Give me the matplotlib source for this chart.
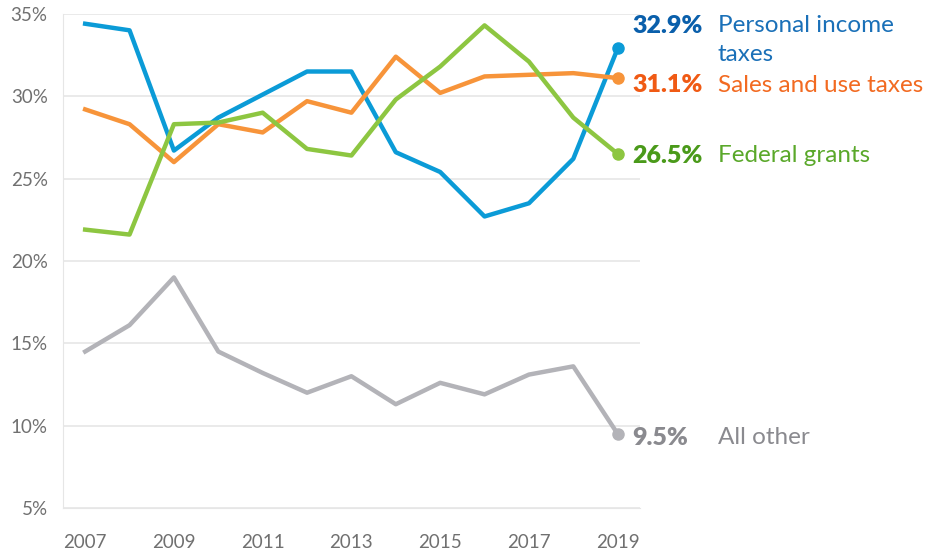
import matplotlib
matplotlib.use("Agg")
import matplotlib.pyplot as plt

years = list(range(2007, 2020))
personal_income = [34.4, 34.0, 26.7, 28.7, 30.1, 31.5, 31.5, 26.6, 25.4, 22.7, 23.5, 26.2, 32.9]
sales_use = [29.2, 28.3, 26.0, 28.3, 27.8, 29.7, 29.0, 32.4, 30.2, 31.2, 31.3, 31.4, 31.1]
federal = [21.9, 21.6, 28.3, 28.4, 29.0, 26.8, 26.4, 29.8, 31.8, 34.3, 32.1, 28.7, 26.5]
all_other = [14.5, 16.1, 19.0, 14.5, 13.2, 12.0, 13.0, 11.3, 12.6, 11.9, 13.1, 13.6, 9.5]

names = ["Personal income\ntaxes", "Sales and use taxes", "Federal grants", "All other"]
series = [personal_income, sales_use, federal, all_other]
line_colors = ["#0b9bd7", "#f7943a", "#8dc641", "#b3b3b8"]
value_colors = ["#0a5fab", "#f05a14", "#4a9a1a", "#8a8a8f"]
name_colors = ["#1a70b8", "#f26a21", "#5aa82a", "#8a8a8f"]
# label positions (data y) -- nudged off the end points so they don't collide
label_y = [34.4, 30.8, 26.5, 9.4]

plt.rcParams["font.family"] = ["Lato", "DejaVu Sans"]

fig = plt.figure(figsize=(9.26, 5.54), dpi=100)
ax = fig.add_axes([0.068, 0.083, 0.623, 0.892])

for vals, c in zip(series, line_colors):
    ax.plot(years, vals, color=c, lw=3.2, zorder=3)
    ax.plot(years[-1], vals[-1], "o", color=c, ms=8, zorder=4)

for vals, name, ly, vc, nc in zip(series, names, label_y, value_colors, name_colors):
    ax.annotate(f"{vals[-1]}%", xy=(1.0, ly), xycoords=("axes fraction", "data"),
                xytext=(-5.5, 0), textcoords="offset points", fontsize=18, fontweight="heavy",
                color=vc, va="center_baseline", ha="left", annotation_clip=False)
    for i, line in enumerate(name.split("\n")):
        ax.annotate(line, xy=(1.0, ly), xycoords=("axes fraction", "data"),
                    xytext=(56, -21 * i), textcoords="offset points", fontsize=17.5,
                    color=nc, va="center_baseline", ha="left", annotation_clip=False)

ax.set_xlim(2006.5, 2019.5)
ax.set_ylim(5, 35)
ax.set_yticks(range(5, 36, 5))
ax.set_yticklabels([f"{v}%" for v in range(5, 36, 5)])
ax.set_xticks(range(2007, 2020, 2))
ax.grid(axis="y", color="#e6e6e6", lw=1.2)
ax.set_axisbelow(True)
for s in ["top", "right"]:
    ax.spines[s].set_visible(False)
ax.spines["left"].set_color("#e6e6e6")
ax.spines["bottom"].set_color("#e6e6e6")
ax.tick_params(length=0, labelsize=13.5, labelcolor="#707070")
ax.tick_params(axis="x", pad=19)
ax.tick_params(axis="y", pad=11)

fig.savefig("out.png", dpi=100)
